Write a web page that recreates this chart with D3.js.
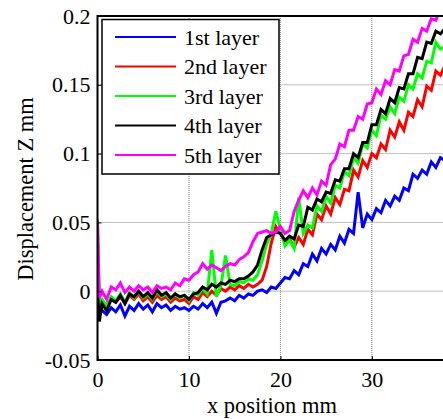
<!DOCTYPE html>
<html><head><meta charset="utf-8">
<script src="https://cdn.jsdelivr.net/npm/d3@7/dist/d3.min.js"></script>
<style>body{margin:0;background:#fff;}svg{display:block;}svg text{font-family:"Liberation Serif","DejaVu Serif",serif;}</style>
</head><body>
<svg id="c" width="443" height="419"></svg>
<script>
const xPos = [0,0.2,0.5,1,1.5,2,2.5,3,3.5,4,4.5,5,5.5,6,6.5,7,7.5,8,8.5,9,9.5,10,10.5,11,11.5,12,12.5,13,13.5,14,14.5,15,15.5,16,16.5,17,17.5,18,18.5,19,19.5,20,20.5,21,21.5,22,22.5,23,23.5,24,24.5,25,25.5,26,26.5,27,27.5,28,28.5,29,29.5,30,30.5,31,31.5,32,32.5,33,33.5,34,34.5,35,35.5,36,36.5,37,37.5,38];
const layer1 = [0.008,-0.012,-0.014,-0.017,-0.012,-0.015,-0.010,-0.018,-0.011,-0.014,-0.009,-0.013,-0.010,-0.015,-0.009,-0.012,-0.010,-0.014,-0.011,-0.013,-0.012,-0.014,-0.011,-0.013,-0.009,-0.012,-0.008,-0.016,-0.008,-0.007,-0.005,-0.007,-0.003,-0.005,-0.002,-0.003,0.000,0.001,-0.001,0.003,0.002,
  0.006,0.010,0.009,0.015,0.012,0.020,0.018,0.027,0.022,0.031,0.027,0.034,0.030,0.040,0.035,0.045,0.042,0.072,0.046,0.056,0.052,0.060,0.057,0.066,0.062,0.069,0.066,0.075,0.073,0.085,0.082,0.088,0.085,0.094,0.090,0.097,0.095];
const layer2 = [0.020,-0.010,-0.008,-0.010,-0.006,-0.008,-0.004,-0.009,-0.003,-0.006,-0.002,-0.007,-0.004,-0.008,-0.003,-0.006,-0.004,-0.008,-0.005,-0.007,-0.006,-0.009,-0.004,-0.006,-0.001,-0.004,0.000,-0.003,0.002,0.000,0.003,0.001,0.004,0.002,0.005,0.003,0.005,0.008,0.018,0.035,0.047,
  0.042,0.036,0.038,0.032,0.039,0.034,0.045,0.041,0.056,0.052,0.062,0.056,0.068,0.063,0.074,0.073,0.088,0.083,0.095,0.090,0.100,0.097,0.107,0.103,0.117,0.112,0.123,0.117,0.130,0.127,0.139,0.134,0.149,0.146,0.160,0.157,0.164];
const layer3 = [0.052,-0.008,-0.006,-0.011,-0.004,-0.007,-0.002,-0.008,-0.001,-0.005,0.000,-0.005,-0.002,-0.006,0.000,-0.004,-0.002,-0.006,-0.002,-0.005,-0.003,-0.007,-0.001,-0.003,0.002,-0.002,0.030,-0.004,0.004,0.026,0.005,0.004,0.007,0.006,0.009,0.008,0.012,0.022,0.034,0.042,0.058,
  0.045,0.033,0.037,0.031,0.068,0.042,0.048,0.046,0.062,0.058,0.069,0.064,0.077,0.075,0.087,0.084,0.097,0.093,0.107,0.104,0.117,0.113,0.128,0.125,0.134,0.129,0.141,0.138,0.150,0.147,0.158,0.155,0.167,0.166,0.181,0.176,0.178];
const layer4 = [0.000,-0.022,-0.009,-0.014,-0.006,-0.008,-0.003,-0.009,-0.002,-0.004,0.000,-0.004,-0.001,-0.005,0.001,-0.003,-0.001,-0.005,-0.002,-0.004,-0.003,-0.006,-0.002,-0.001,0.003,0.001,0.005,0.003,0.006,0.005,0.008,0.007,0.009,0.009,0.011,0.014,0.019,0.030,0.039,0.041,0.043,
  0.042,0.037,0.040,0.038,0.048,0.047,0.061,0.059,0.067,0.065,0.072,0.071,0.081,0.080,0.089,0.089,0.100,0.097,0.108,0.108,0.121,0.121,0.132,0.129,0.140,0.137,0.148,0.147,0.158,0.158,0.170,0.169,0.181,0.180,0.189,0.187,0.191];
const layer5 = [0.050,-0.005,0.000,-0.006,0.003,0.001,0.006,-0.001,0.003,0.000,0.004,0.001,0.003,-0.001,0.004,0.002,0.003,0.001,0.006,0.004,0.009,0.008,0.012,0.014,0.020,0.016,0.019,0.017,0.015,0.018,0.020,0.019,0.023,0.025,0.028,0.036,0.042,0.043,0.044,0.042,0.043,
  0.047,0.042,0.044,0.058,0.066,0.073,0.068,0.075,0.070,0.080,0.077,0.092,0.096,0.107,0.105,0.117,0.117,0.127,0.125,0.136,0.137,0.147,0.143,0.153,0.150,0.161,0.160,0.171,0.172,0.183,0.181,0.191,0.189,0.198,0.197,0.205,0.205];
const seriesNames = ["1st layer","2nd layer","3rd layer","4th layer","5th layer"];
const seriesColors = ["#0000ff","#ff0000","#00ff00","#000000","#ff00ff"];
const seriesData = [layer1,layer2,layer3,layer4,layer5];
const xTicks = [0,10,20,30];
const yTicks = [-0.05,0,0.05,0.1,0.15,0.2];
const yTickLabels = ["-0.05","0","0.05","0.1","0.15","0.2"];

const svg = d3.select("#c");
const L = 97.5, T = 16, B = 360, R = 445;
const x = d3.scaleLinear().domain([0,38]).range([L,R]);
const y = d3.scaleLinear().domain([-0.05,0.2]).range([B,T]);

// grid
const g = svg.append("g");
g.selectAll(".gx").data(xTicks.slice(1)).join("line")
  .attr("x1",d=>x(d)).attr("x2",d=>x(d)).attr("y1",T).attr("y2",B)
  .attr("stroke","#808080").attr("stroke-width",1).attr("stroke-dasharray","1,1");
g.selectAll(".gy").data(yTicks.slice(1,-1)).join("line")
  .attr("x1",L).attr("x2",R).attr("y1",d=>y(d)).attr("y2",d=>y(d))
  .attr("stroke","#808080").attr("stroke-width",1).attr("stroke-dasharray","1,1");

svg.append("clipPath").attr("id","clip").append("rect")
  .attr("x",L).attr("y",T).attr("width",R-L).attr("height",B-T);

const line = d3.line().x((d,i)=>x(xPos[i])).y(d=>y(d));
svg.append("g").attr("clip-path","url(#clip)")
  .selectAll("path").data(seriesData).join("path")
  .attr("d",d=>line(d)).attr("fill","none")
  .attr("stroke",(d,i)=>seriesColors[i]).attr("stroke-width",3)
  .attr("stroke-linejoin","miter");

// axes
const xAxis = d3.axisBottom(x).tickValues(xTicks).tickSize(-4).tickPadding(10).tickFormat(d3.format("d"));
const yAxis = d3.axisLeft(y).tickValues(yTicks).tickSize(-4).tickPadding(7).tickFormat((d,i)=>yTickLabels[i]);
const ax = svg.append("g").attr("transform",`translate(0,${B})`).call(xAxis);
const ay = svg.append("g").attr("transform",`translate(${L},0)`).call(yAxis);
[ax,ay].forEach(a=>{
  a.attr("font-family",null).attr("font-size",null);
  a.select(".domain").remove();
  a.selectAll(".tick line").attr("stroke","#000").attr("stroke-width",1);
  a.selectAll("text").style("font-size","22px").attr("fill","#000");
});
ax.selectAll("text").attr("dy","0.75em");
// frame
svg.append("rect").attr("x",L).attr("y",T).attr("width",R-L).attr("height",B-T)
  .attr("fill","none").attr("stroke","#000").attr("stroke-width",2);

// labels
svg.append("text").attr("x",272).attr("y",413).attr("text-anchor","middle")
  .style("font-size","22.5px").text("x position mm");
svg.append("text").attr("transform","translate(33,189) rotate(-90)").attr("text-anchor","middle")
  .style("font-size","22.5px").text("Displacement Z mm");

// legend
const lg = svg.append("g");
lg.append("rect").attr("x",102).attr("y",19.5).attr("width",177).attr("height",154.5)
  .attr("fill","#fff").attr("stroke","#000").attr("stroke-width",1.5);
const rows = lg.selectAll("g.r").data(seriesNames).join("g")
  .attr("transform",(d,i)=>`translate(0,${37+i*29.5})`);
rows.append("line").attr("x1",115).attr("x2",176).attr("y1",0).attr("y2",0)
  .attr("stroke",(d,i)=>seriesColors[i]).attr("stroke-width",2);
rows.append("text").attr("x",184).attr("y",0).attr("dy","0.35em")
  .style("font-size","22px").text(d=>d);
</script>
</body></html>
